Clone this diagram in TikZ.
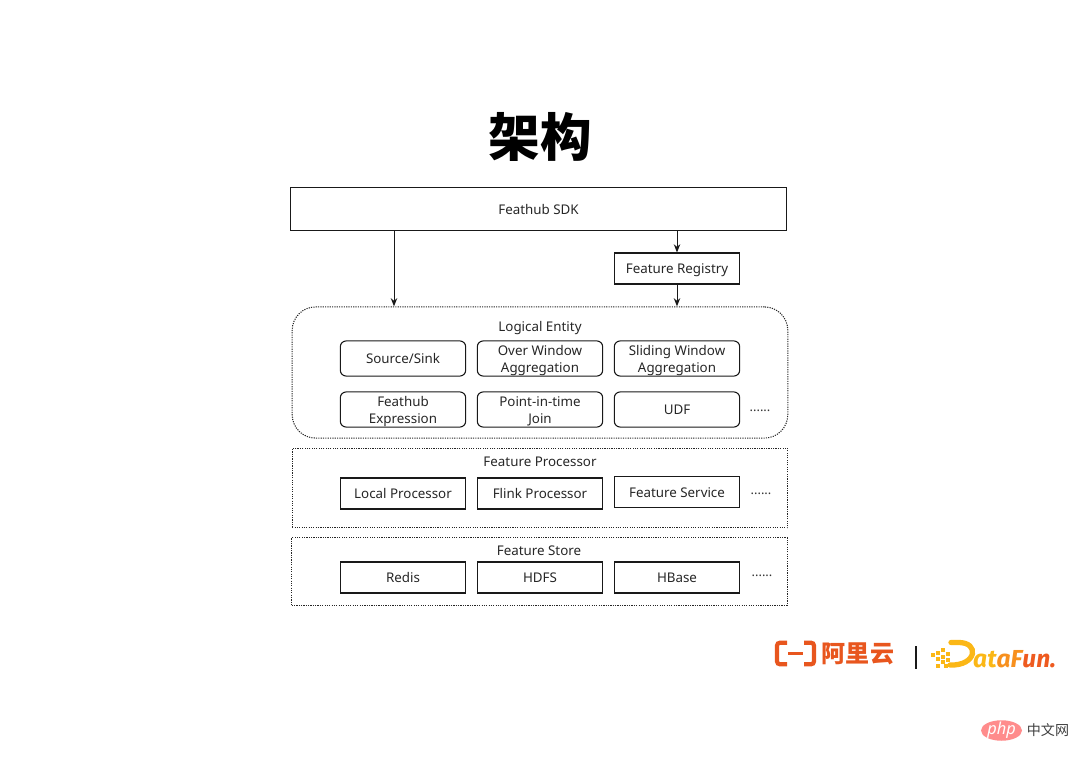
\documentclass[tikz,border=0pt]{standalone}
\usepackage{fontspec}
\setmainfont{Noto Sans}
\newfontfamily\cjk{Noto Sans CJK SC}
\newfontfamily\logofont{Fira Sans}
\usetikzlibrary{arrows.meta,shapes}
\definecolor{aliorange}{HTML}{E8561E}
\definecolor{funyellow}{HTML}{FBB716}
\definecolor{funorange}{HTML}{F7901E}
\definecolor{funred}{HTML}{EE5A1F}
\newcommand{\toppad}{\mbox{}\\[-2.6pt]}
\tikzset{
  labeltext/.style={text=black!85,font=\fontsize{11.4}{14.5}\selectfont,execute at begin node={\rule[-3pt]{0pt}{15pt}}},
  box/.style={labeltext,draw=black!90,line width=.9pt,minimum width=107pt,minimum height=26.5pt,inner sep=0pt,align=center},
  rbox/.style={box,rounded corners=5pt,minimum height=30pt},
  layer/.style={draw=black!85,line width=.9pt,dash pattern=on 1pt off 1pt,inner sep=0pt,minimum width=423pt},
  layertitle/.style={labeltext,inner sep=0pt},
  more/.style={inner sep=0pt,text=black!80,font=\fontsize{11}{11}\selectfont},
  flow/.style={-{Stealth[length=7pt,width=5.5pt]},line width=.8pt,black!90}
}
\begin{document}
\begin{tikzpicture}[x=.03cm,y=-.03cm]
\useasboundingbox (0,0) rectangle (1080,763);
\node[inner sep=0pt,font=\cjk\bfseries\fontsize{44}{44}\selectfont] (title) at (540,137) {架构};
\node[box,minimum width=423.5pt,minimum height=37.5pt] (sdk) at (538.5,209) {Feathub SDK};
\node[box] (registry) at (677,268.5) {Feature Registry};
\node[layer,rounded corners=20pt,minimum height=112pt] (logical) at (540,372.5) {};
\node[layer,minimum height=67.5pt] (processor) at (540,488) {};
\node[layer,minimum height=57.5pt] (store) at (539.5,571.5) {};
\node[layertitle] (logicaltitle) at (540,326) {Logical Entity};
\node[layertitle] (processortitle) at (540,461) {Feature Processor};
\node[layertitle] (storetitle) at (539,550) {Feature Store};
\node[rbox] (source) at (403,358.5) {Source/Sink};
\node[rbox] (over) at (540,358.5) {\toppad Over Window\\Aggregation};
\node[rbox] (sliding) at (677,358.5) {\toppad Sliding Window\\Aggregation};
\node[rbox] (expression) at (403,409.5) {\toppad Feathub\\Expression};
\node[rbox] (join) at (540,409.5) {\toppad Point-in-time\\Join};
\node[rbox] (udf) at (677,409.5) {UDF};
\node[more] (moreudf) at (760,410.5) {......};
\node[box] (local) at (403,493.5) {Local Processor};
\node[box] (flink) at (540,493.5) {Flink Processor};
\node[box] (service) at (677,492) {Feature Service};
\node[more] (moreservice) at (761,494) {......};
\node[box] (redis) at (403,577.5) {Redis};
\node[box] (hdfs) at (540,577.5) {HDFS};
\node[box] (hbase) at (677,577.5) {HBase};
\node[more] (morehbase) at (762,576) {......};
\coordinate (entry) at (394,270);
\draw[flow] (sdk.south -| entry) -- (logical.north -| entry);
\draw[flow] (sdk.south -| registry) -- (registry.north);
\draw[flow] (registry.south) -- (logical.north -| registry);
\draw[aliorange,line width=3.6pt,rounded corners=2.5pt] (787,642.7) -- (777,642.7) -- (777,664.3) -- (787,664.3);
\draw[aliorange,line width=3.6pt,rounded corners=2.5pt] (804,642.7) -- (814,642.7) -- (814,664.3) -- (804,664.3);
\draw[aliorange,line width=1.8pt] (788,653.5) -- (803,653.5);
\node[inner sep=0pt,text=aliorange,font=\cjk\bfseries\fontsize{20.5}{20.5}\selectfont] (aliyun) at (858,654) {阿里云};
\draw[black!90,line width=1.2pt] (916,646) -- (916,669);
\foreach \px/\py in {931/653,936/651,941/648,936/657,941/655,946/652,941/660,946/658,936/664,944/664}
  \fill[funyellow] (\px,\py) rectangle +(3.5,3.5);
\draw[funyellow,line width=4.5pt,line cap=round] (951,642.5) -- (958,642.5) .. controls (980,642) and (977,666) .. (950,665);
\node[inner sep=0pt,anchor=base west,font=\logofont\bfseries\itshape\fontsize{21}{21}\selectfont] (datafun) at (973,667) {\textcolor{funyellow}{a}\textcolor{funyellow}{t}\textcolor{funorange}{a}\textcolor{funorange}{F}\textcolor{funred}{un.}};
\node[ellipse,fill=red!45!white,minimum width=35pt,minimum height=17.5pt,inner sep=0pt] (phpmark) at (1001.5,730.5) {};
\node[inner sep=0pt,text=white,font=\itshape\fontsize{14}{14}\selectfont] (php) at (phpmark) {php};
\node[inner sep=0pt,text=black!75,font=\cjk\fontsize{12}{12}\selectfont] (zhongwen) at (1048,730) {中文网};
\end{tikzpicture}
\end{document}
